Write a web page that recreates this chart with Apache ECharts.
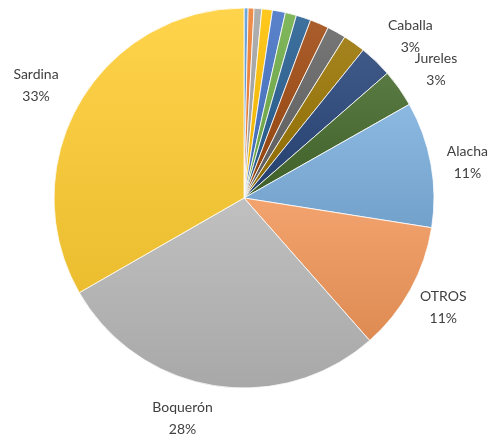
<!DOCTYPE html>
<html>
<head>
<meta charset="utf-8">
<script src="https://cdn.jsdelivr.net/npm/echarts@6/dist/echarts.min.js"></script>
<style>
html,body{margin:0;padding:0;background:#fff;}
#main{width:493px;height:439px;}
</style>
</head>
<body>
<div id="main"></div>
<script>
// datos (porcentaje de cada especie), en el orden de las agujas del reloj desde arriba
var especies = ['e1','e2','e3','e4','e5','e6','e7','e8','e9','e10','Caballa','Jureles','Alacha','OTROS','Boquerón','Sardina'];
var valores = [0.35,0.5,0.65,0.9,1.1,0.95,1.25,1.6,1.6,1.9,2.8,3.2,10.7,11,28.2,33.3];
var etiquetas = ['','','','','','','','','','','3%','3%','11%','11%','28%','33%'];
var colores = ['#5B9BD5','#ED7D31','#A5A5A5','#FFC000','#4472C4','#70AD47','#255E91','#9E480E','#636363','#997300','#264478','#43682B','#7CAFDD','#F1975A','#B7B7B7','#FFCD33'];

function mezcla(hex, k){ // k>0 aclara, k<0 oscurece
    var n = parseInt(hex.slice(1),16);
    var c = [(n>>16)&255,(n>>8)&255,n&255].map(function(v){
        return Math.round(k>0 ? v+(255-v)*k : v*(1+k));
    });
    return 'rgb('+c.join(',')+')';
}

var cx = 244, cy = 198, r = 190;
var total = valores.reduce(function(a,b){return a+b;},0);
function anguloMedio(i){
    var acc = 0;
    for (var j=0;j<i;j++) acc += valores[j];
    return (acc + valores[i]/2)/total*Math.PI*2;
}
// distancia de la etiqueta al borde y ajuste fino (dx, dy)
var distEtiqueta = {Caballa:44, Jureles:44, Alacha:36, OTROS:42, 'Boquerón':28, Sardina:48};
var ajuste = {Caballa:[4,7], Jureles:[1,7], Alacha:[1,5], OTROS:[-4,-2], 'Boquerón':[-26,5], Sardina:[-2,7]};

var datos = especies.map(function(n,i){
    return {
        name: n,
        value: valores[i],
        itemStyle: {
            color: new echarts.graphic.LinearGradient(0,0,0,1,[
                {offset:0,color:mezcla(colores[i],0.12)},
                {offset:1,color:mezcla(colores[i],-0.08)}
            ])
        },
        label: {show: etiquetas[i] !== ''}
    };
});

var myChart = echarts.init(document.getElementById('main'));
myChart.setOption({
    animation: false,
    series: [{
        type: 'pie',
        center: [cx, cy],
        radius: r,
        startAngle: 90,
        clockwise: true,
        avoidLabelOverlap: false,
        data: datos,
        itemStyle: {borderColor:'#fff', borderWidth:0.8},
        emphasis: {disabled:true},
        label: {
            position: 'outside',
            fontFamily: 'Lato',
            fontSize: 14,
            lineHeight: 22,
            color: '#404040',
            overflow: 'none',
            formatter: function(p){ return p.name + '\n' + etiquetas[p.dataIndex]; }
        },
        labelLine: {show:false, length:20, length2:0},
        labelLayout: function(p){
            var n = especies[p.dataIndex];
            var a = anguloMedio(p.dataIndex);
            var d = r + (distEtiqueta[n] || 40);
            var off = ajuste[n] || [0,0];
            return {
                x: cx + Math.sin(a)*d + off[0],
                y: cy - Math.cos(a)*d + off[1],
                width: 80,
                align: 'center',
                verticalAlign: 'middle'
            };
        }
    }]
});
</script>
</body>
</html>
